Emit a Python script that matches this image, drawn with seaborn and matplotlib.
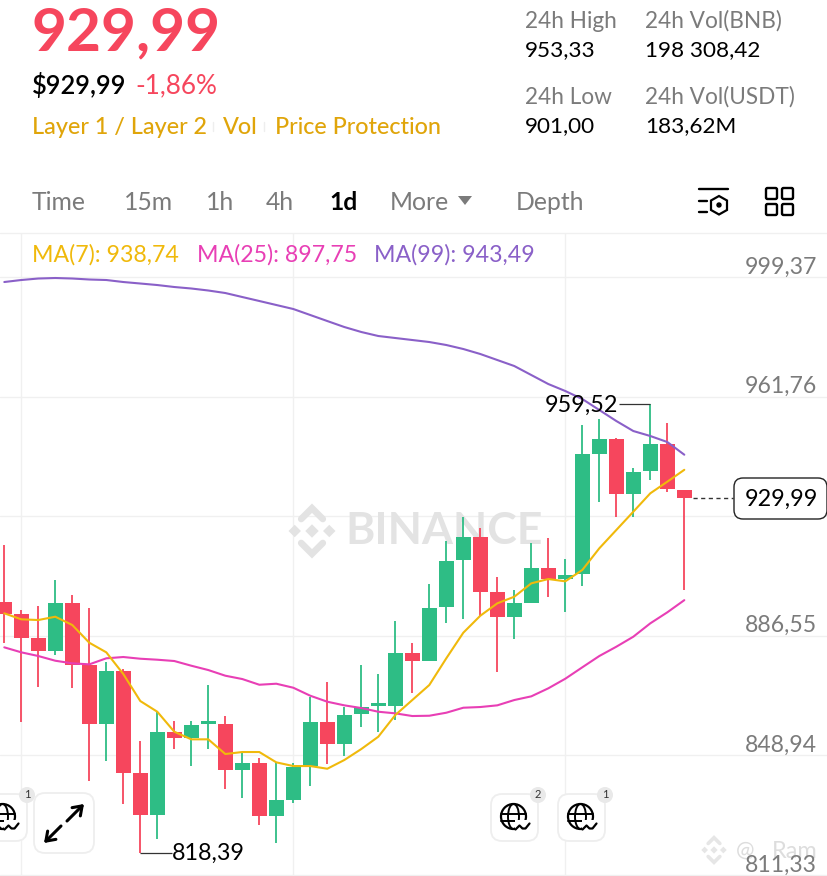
import numpy as np
import pandas as pd
import seaborn as sn
import matplotlib.pyplot as plt
from matplotlib import transforms
from matplotlib.patches import Circle, Ellipse, FancyBboxPatch, Polygon

# daily candles, values
opens = [897.26,893.39,885.93,881.66,896.75,877.35,858.79,875.56,843.29,830.17,856.18,854.29,858.79,858.70,844.42,846.53,829.86,834.79,845.58,859.33,852.60,861.94,864.45,864.51,881.22,878.70,895.49,910.37,917.51,900.21,892.35,896.94,907.76,904.39,905.88,943.71,948.33,931.22,938.27,946.95,932.38]
highs = [915.09,894.65,896.00,904.08,899.36,895.37,878.38,876.09,853.55,862.66,859.65,859.84,871.06,861.40,849.58,848.00,846.93,846.43,867.19,872.10,864.05,877.26,874.52,891.10,884.17,902.73,916.44,923.80,920.34,904.93,900.94,915.81,917.20,910.69,952.83,954.62,948.65,939.21,959.52,953.36,932.38]
lows = [884.17,859.52,870.52,880.40,870.21,840.96,847.25,833.63,818.39,822.53,851.03,845.68,851.03,838.45,835.42,826.93,821.46,834.04,839.38,846.12,848.82,857.76,856.37,860.05,868.63,878.70,890.65,891.72,892.85,875.24,885.43,896.94,898.83,894.11,902.29,928.52,924.00,923.80,935.53,931.66,900.94]
closes = [893.39,885.93,881.66,896.75,877.35,858.79,875.56,843.29,830.17,856.18,854.29,858.57,859.33,844.42,846.53,829.86,834.79,845.17,859.33,852.60,861.62,864.23,864.99,881.22,878.70,895.37,910.15,917.51,900.40,892.35,896.75,907.76,904.39,905.75,943.61,948.33,931.22,937.95,946.95,932.61,929.99]
ma7 = [893.61,891.72,891.50,892.54,889.93,884.36,881.34,874.51,866.02,862.66,856.37,853.98,853.98,849.36,849.99,849.99,846.74,845.58,845.58,844.73,847.47,850.93,854.80,861.62,866.34,871.06,879.46,887.51,892.85,896.75,898.83,903.04,904.39,903.67,907.23,914.05,919.81,925.56,931.35,935.00,938.74]
ma25 = [882.91,881.34,880.18,878.70,877.88,877.56,879.46,879.87,879.33,879.02,878.61,877.13,875.77,873.99,872.94,871.15,871.47,870.21,867.69,865.81,864.67,863.82,862.66,862.15,861.31,861.40,862.35,863.92,864.14,864.67,866.34,867.50,870.02,873.04,876.63,880.18,883.10,886.25,890.46,893.92,897.75]
ma99 = [997.80,998.43,998.90,999.06,998.90,998.59,998.43,997.80,997.33,996.85,996.23,995.76,995.13,994.34,993.08,991.83,990.57,989.31,987.42,985.53,983.65,982.08,980.82,980.19,979.56,978.93,977.99,976.73,975.16,973.27,971.38,968.55,965.72,963.52,961.00,957.55,954.09,950.94,949.37,947.48,943.49]
price_ticks = [999.37, 961.76, 924.15, 886.55, 848.94, 811.33]
price_labels = ['999,37', '961,76', '', '886,55', '848,94', '811,33']
grid_candles = [1, 17, 33]

RED = '#f6465d'
GREEN = '#2ebd85'
GOLD = '#f0b90b'
TAB_GOLD = '#e0a50a'
PINK = '#e83fb5'
PURPLE = '#8a60c8'
GRAY = '#7b7b7b'

sn.set_theme(style='white')
plt.rcParams['font.family'] = ['Lato', 'DejaVu Sans']

df = pd.DataFrame({'o': opens, 'h': highs, 'l': lows, 'c': closes, 'ma7': ma7, 'ma25': ma25, 'ma99': ma99})
df['i'] = range(len(df))
df['col'] = np.where(df.c >= df.o, GREEN, RED)

fig = plt.figure(figsize=(8.28, 8.76), dpi=100)
ax = fig.add_axes([0, 0, 1, 1])
ax.axis('off')

# pixel coordinates of the screenshot, y down
px = transforms.Affine2D().scale(1 / 828, -1 / 876).translate(0, 1) + fig.transFigure


def label(x, y, s, color='black', size=16, weight='normal', ha='left', z=6):
    ax.text(x, y + 2, s, color=color, fontsize=size, fontweight=weight, ha=ha, va='center', transform=px, zorder=z)


def logo(cx, cy, r, color, z=1):
    # centre diamond and chevrons
    ax.add_patch(Polygon([(cx, cy - r * .28), (cx + r * .28, cy), (cx, cy + r * .28), (cx - r * .28, cy)], color=color, transform=px, zorder=z, lw=0))
    for dy in [-1, 1]:
        ax.plot([cx - r * .45, cx, cx + r * .45], [cy + dy * r * .5, cy + dy * r * .95, cy + dy * r * .5], color=color, lw=r * .2, transform=px, zorder=z, solid_joinstyle='miter')
    for dx in [-1, 1]:
        ax.add_patch(Polygon([(cx + dx * r * .72, cy - r * .26), (cx + dx * r * .98, cy), (cx + dx * r * .72, cy + r * .26), (cx + dx * r * .46, cy)], color=color, transform=px, zorder=z, lw=0))


def globe_button(x, y, s, n=None):
    ax.add_patch(FancyBboxPatch((x + 7, y + 7), s - 14, s - 14, boxstyle='round,pad=7,rounding_size=11', fc='white', ec='#eeeeee', lw=1.3, transform=px, zorder=5))
    cx, cy = x + s / 2, y + s / 2
    ax.add_patch(Circle((cx - 1, cy - 1), 12.5, fc='none', ec='black', lw=1.6, transform=px, zorder=6))
    ax.add_patch(Ellipse((cx - 1, cy - 1), 11, 25, fc='none', ec='black', lw=1.4, transform=px, zorder=6))
    ax.plot([cx - 13, cx + 12], [cy - 4, cy - 4], color='black', lw=1.4, transform=px, zorder=6)
    ax.plot([cx - 13, cx + 4], [cy + 3, cy + 3], color='black', lw=1.4, transform=px, zorder=6)
    ax.add_patch(Polygon([(cx + 1, cy + 2), (cx + 16, cy + 2), (cx + 16, cy + 15), (cx + 1, cy + 15)], color='white', transform=px, zorder=6, lw=0))
    ax.plot([cx + 1, cx + 5, cx + 8, cx + 11, cx + 15], [cy + 12, cy + 8, cy + 11, cy + 11, cy + 6], color='black', lw=1.6, transform=px, zorder=7)
    if n is not None:
        ax.add_patch(Circle((x + s, y + 1), 8, fc='#e9e9e9', ec='none', transform=px, zorder=7))
        label(x + s, y - 1, n, color='#333333', size=8, ha='center', z=8)


# grid
for p in price_ticks:
    ax.axhline(p, color='#f0f0f0', lw=1, zorder=0)
for c in grid_candles:
    ax.vlines(c, 811.0, 1086.49 - .3145 * 233, color='#f0f0f0', lw=1, zorder=0)
ax.plot([0, 828], [233, 233], color='#f0f0f0', lw=1, transform=px, zorder=0)

# watermark
logo(312, 531, 24, '#e3e3e3')
label(345, 529, 'BINANCE', color='#e3e3e3', size=32, weight='bold', z=1)

# candles
ax.vlines(df.i, df.l, df.h, colors=df.col, lw=1.3, zorder=2)
ax.bar(df.i, (df.c - df.o).abs().clip(lower=1.0), bottom=df[['o', 'c']].min(axis=1), width=15 / 17, color=df.col, lw=0, zorder=3)

# moving averages
for name, col in [('ma99', PURPLE), ('ma25', PINK), ('ma7', GOLD)]:
    sn.lineplot(data=df, x='i', y=name, color=col, lw=1.5, errorbar=None, legend=False, ax=ax, zorder=4)
ax.set_xlim(-4.3 / 17, (828 - 4.3) / 17)
ax.set_ylim(811.0, 1086.49)

# high / low markers
hi = int(np.argmax(highs))
lo = int(np.argmin(lows))
ax.hlines(highs[hi], hi - 1.85, hi, color='#333333', lw=.9, zorder=5)
ax.hlines(lows[lo], lo, lo + 1.85, color='#333333', lw=.9, zorder=5)
label(618, 403, '959,52', size=16.8, ha='right')
label(172, 851, '818,39', size=16.8)

# price axis
for p, s in zip(price_ticks, price_labels):
    if s:
        label(817, (1086.49 - p) / .3145 - 12, s, color=GRAY, size=16.6, ha='right')

# last price
ax.hlines(closes[-1], len(closes) - 1 + 9 / 17, len(closes) - 1 + 49 / 17, color='#333333', lw=1, linestyles=(0, (3, 2.5)), zorder=5)
ax.add_patch(FancyBboxPatch((742, 486), 77, 25, boxstyle='round,pad=8,rounding_size=9', fc='white', ec='#222222', lw=1, transform=px, zorder=5))
label(781, 497, '929,99', size=16.8, ha='center')

# bottom watermark
logo(714, 850, 13, '#e6e6e6', z=1)
label(736, 849, '@', color='#dddddd', size=16, z=1)
label(772, 849, 'Ram', color='#dddddd', size=17, z=1)

# header
label(32, 31, '929,99', color=RED, size=43.5, weight='bold')
label(32, 84, '$929,99', size=18.4, weight=600)
label(135, 84, '-1,86%', color=RED, size=18.8)
label(32, 125, 'Layer 1 / Layer 2', color=TAB_GOLD, size=16.8, weight=500)
label(223, 125, 'Vol', color=TAB_GOLD, size=16.8, weight=500)
label(275, 125, 'Price Protection', color=TAB_GOLD, size=16.8, weight=500)
for x in [213, 264]:
    ax.plot([x, x], [122, 131], color='#eeeeee', lw=1, transform=px)

label(525, 19, '24h High', color=GRAY, size=16.3)
label(525, 48, '953,33', size=16.2)
label(645, 19, '24h Vol(BNB)', color=GRAY, size=16.3)
label(645, 48, '198 308,42', size=16.2)
label(525, 95, '24h Low', color=GRAY, size=16.3)
label(525, 124, '901,00', size=16.2)
label(645, 95, '24h Vol(USDT)', color=GRAY, size=16.3)
label(645, 124, '183,62M', size=16.2)

# tabs
for x, s in [(32, 'Time'), (124, '15m'), (206, '1h'), (266, '4h'), (390, 'More'), (516, 'Depth')]:
    label(x, 200, s, color=GRAY, size=17.8)
label(329, 200, '1d', size=17.8, weight='bold')
ax.add_patch(Polygon([(458, 196), (472, 196), (465, 205)], color=GRAY, transform=px, lw=0))

# chart setting icons
ax.plot([699, 728], [189, 189], color='black', lw=1.7, transform=px)
ax.plot([699, 707], [201, 201], color='black', lw=1.7, transform=px)
ax.plot([699, 707], [212, 212], color='black', lw=1.7, transform=px)
hexa = [(719, 196), (727, 200.5), (727, 210), (719, 214.5), (711, 210), (711, 200.5)]
ax.add_patch(Polygon(hexa, fc='none', ec='black', lw=1.6, transform=px))
ax.add_patch(Circle((719, 205), 2, color='black', transform=px))
for x in [766, 782]:
    for y in [188, 204]:
        ax.add_patch(FancyBboxPatch((x + 1.5, y + 1.5), 8, 8, boxstyle='round,pad=1.5,rounding_size=1.5', fc='none', ec='black', lw=1.7, transform=px))

# MA legend
label(32, 253, 'MA(7): 938,74', color=GOLD, size=16.7)
label(197, 253, 'MA(25): 897,75', color=PINK, size=16.7)
label(374, 253, 'MA(99): 943,49', color=PURPLE, size=16.7)

# floating buttons
globe_button(-20, 794, 47, '1')
globe_button(491, 794, 47, '2')
globe_button(558, 794, 47, '1')
ax.add_patch(FancyBboxPatch((41, 800), 46, 46, boxstyle='round,pad=7,rounding_size=11', fc='white', ec='#eeeeee', lw=1.3, transform=px, zorder=5))
ax.annotate('', xy=(84, 804), xytext=(67, 821), xycoords=px, textcoords=px, arrowprops=dict(arrowstyle='->,head_width=.35,head_length=.5', color='black', lw=2.2, shrinkA=0, shrinkB=0), zorder=6)
ax.annotate('', xy=(44, 843), xytext=(61, 826), xycoords=px, textcoords=px, arrowprops=dict(arrowstyle='->,head_width=.35,head_length=.5', color='black', lw=2.2, shrinkA=0, shrinkB=0), zorder=6)

fig.savefig('out.png', dpi=100, facecolor='white')
